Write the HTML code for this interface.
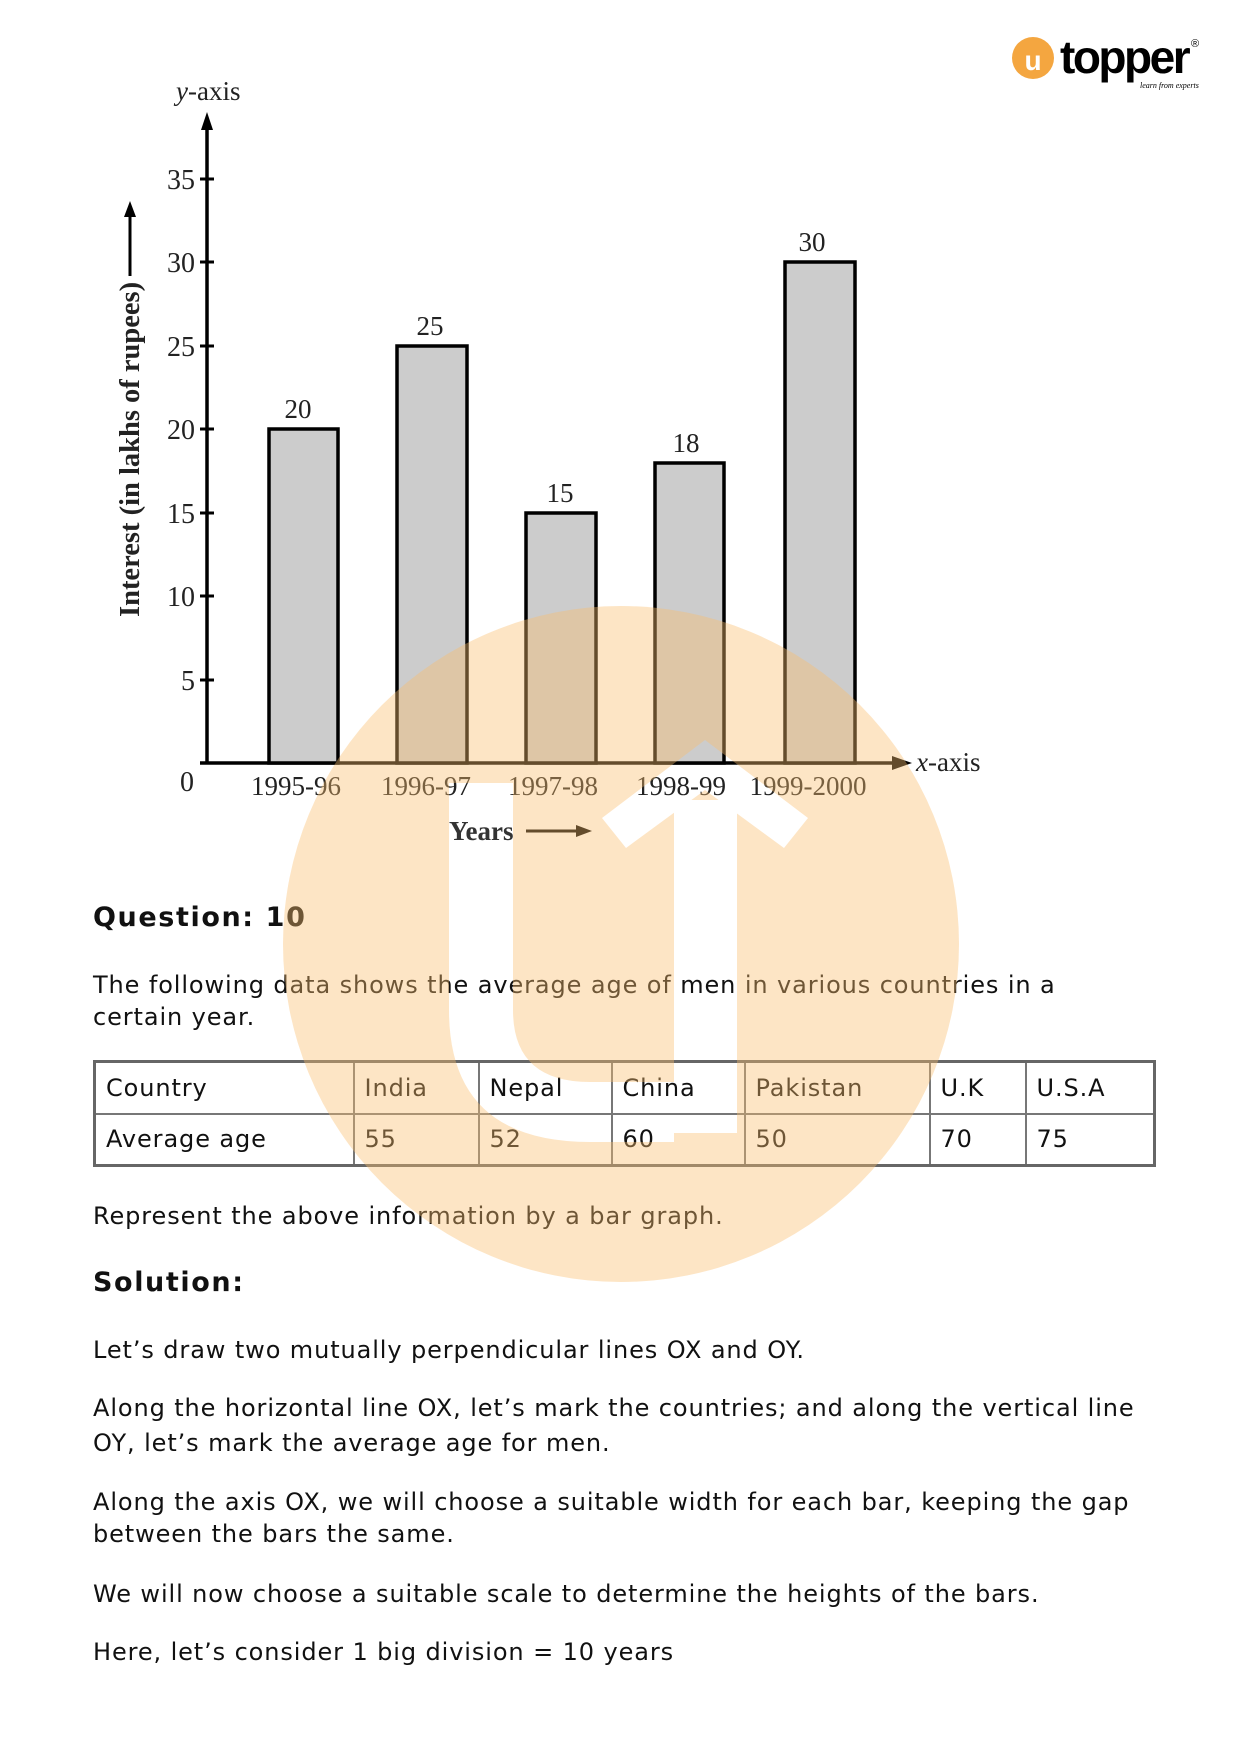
<!DOCTYPE html>
<html><head><meta charset="utf-8"><style>
html,body{margin:0;padding:0;background:#fff;}
body{width:1240px;height:1755px;position:relative;overflow:hidden;font-family:"DejaVu Sans","Liberation Sans",sans-serif;color:#111;}
.t{position:absolute;white-space:nowrap;font-size:24px;line-height:30px;letter-spacing:0.9px;}
.b{font-weight:bold;font-size:27px;letter-spacing:1.6px;}
table{position:absolute;left:93px;top:1060px;border-collapse:collapse;border:3px solid #666;}
td{border:2px solid #777;height:52px;padding:0 0 0 10px;font-size:24px;box-sizing:border-box;letter-spacing:0.9px;}
</style></head><body>
<svg width="1240" height="900" style="position:absolute;left:0;top:0" font-family="Liberation Serif, serif">
<g stroke="#000" stroke-width="3.5">
<line x1="207" y1="122" x2="207" y2="763"/>
<line x1="200" y1="763" x2="895" y2="763"/>
</g>
<polygon points="207,112 201,130 213,130" fill="#000"/>
<polygon points="912,763 892,756 892,770" fill="#000"/>
<g stroke="#000" stroke-width="3">
<line x1="200" y1="179" x2="214" y2="179"/><line x1="200" y1="262" x2="214" y2="262"/>
<line x1="200" y1="346" x2="214" y2="346"/><line x1="200" y1="429" x2="214" y2="429"/>
<line x1="200" y1="513" x2="214" y2="513"/><line x1="200" y1="596" x2="214" y2="596"/>
<line x1="200" y1="680" x2="214" y2="680"/>
</g>
<g font-size="28" text-anchor="end" fill="#222">
<text x="195" y="189">35</text><text x="195" y="272">30</text><text x="195" y="356">25</text>
<text x="195" y="439">20</text><text x="195" y="523">15</text><text x="195" y="606">10</text>
<text x="195" y="690">5</text><text x="194" y="791">0</text>
</g>
<text x="176" y="100" font-size="27" fill="#222"><tspan font-style="italic">y</tspan>-axis</text>
<text x="916" y="771" font-size="27" fill="#222"><tspan font-style="italic">x</tspan>-axis</text>
<g fill="#cccccc" stroke="#000" stroke-width="3.5">
<rect x="269" y="429" width="69" height="334"/>
<rect x="397" y="346" width="70" height="417"/>
<rect x="526" y="513" width="70" height="250"/>
<rect x="655" y="463" width="69" height="300"/>
<rect x="785" y="262" width="70" height="501"/>
</g>
<g font-size="27" text-anchor="middle" fill="#222">
<text x="298" y="418">20</text><text x="430" y="335">25</text><text x="560" y="502">15</text>
<text x="686" y="452">18</text><text x="812" y="251">30</text>
<text x="296" y="795">1995-96</text><text x="426" y="795">1996-97</text><text x="553" y="795">1997-98</text>
<text x="681" y="795">1998-99</text><text x="808" y="795">1999-2000</text>
</g>
<text x="449" y="840" font-size="27" font-weight="bold" fill="#333">Years</text>
<line x1="526" y1="831" x2="578" y2="831" stroke="#000" stroke-width="3"/>
<polygon points="592,831 576,825 576,837" fill="#000"/>
<text transform="translate(139,617) rotate(-90)" font-size="28.5" font-weight="bold" fill="#222">Interest (in lakhs of rupees)</text>
<line x1="130" y1="276" x2="130" y2="212" stroke="#000" stroke-width="3"/>
<polygon points="130,201 124,217 136,217" fill="#000"/>
<circle cx="1033" cy="58" r="21" fill="#f4a640"/>
<text x="1033" y="70" font-family="Liberation Sans, sans-serif" font-size="28" font-weight="bold" fill="#fff" text-anchor="middle">u</text>
<text x="1060" y="73" font-family="Liberation Sans, sans-serif" font-size="46" font-weight="bold" fill="#000" letter-spacing="-2.5">topper</text>
<text x="1191" y="47" font-family="Liberation Sans, sans-serif" font-size="11" fill="#000">®</text>
<text x="1140" y="88" font-size="8" font-style="italic" fill="#000">learn from experts</text>
</svg>

<div class="t b" style="left:93px;top:903px;">Question: 10</div>
<div class="t" style="left:93px;top:970px;">The following data shows the average age of men in various countries in a</div>
<div class="t" style="left:93px;top:1002px;">certain year.</div>
<table>
<tr><td style="width:259px">Country</td><td style="width:125px">India</td><td style="width:133px">Nepal</td><td style="width:133px">China</td><td style="width:185px">Pakistan</td><td style="width:96px">U.K</td><td style="width:129px">U.S.A</td></tr>
<tr><td>Average age</td><td>55</td><td>52</td><td>60</td><td>50</td><td>70</td><td>75</td></tr>
</table>
<div class="t" style="left:93px;top:1201px;">Represent the above information by a bar graph.</div>
<div class="t b" style="left:93px;top:1268px;">Solution:</div>
<div class="t" style="left:93px;top:1335px;">Let’s draw two mutually perpendicular lines OX and OY.</div>
<div class="t" style="left:93px;top:1393px;">Along the horizontal line OX, let’s mark the countries; and along the vertical line</div>
<div class="t" style="left:93px;top:1428px;">OY, let’s mark the average age for men.</div>
<div class="t" style="left:93px;top:1487px;">Along the axis OX, we will choose a suitable width for each bar, keeping the gap</div>
<div class="t" style="left:93px;top:1519px;">between the bars the same.</div>
<div class="t" style="left:93px;top:1579px;">We will now choose a suitable scale to determine the heights of the bars.</div>
<div class="t" style="left:93px;top:1637px;">Here, let’s consider 1 big division = 10 years</div>

<svg width="1240" height="1755" style="position:absolute;left:0;top:0">
<defs><mask id="m">
<circle cx="621" cy="944" r="338" fill="#fff"/>
<g fill="#000">
<path d="M449,783 H513 V1010 Q513,1082 590,1082 H674 V1142 H590 Q449,1142 449,1010 Z"/>
<rect x="674" y="800" width="63" height="333"/>
<polygon points="705,740 808,818 784,848 705,790 626,848 602,818"/>
</g></mask></defs>
<rect x="0" y="0" width="1240" height="1755" fill="rgba(251,190,110,0.4)" mask="url(#m)"/>
</svg>
</body></html>
